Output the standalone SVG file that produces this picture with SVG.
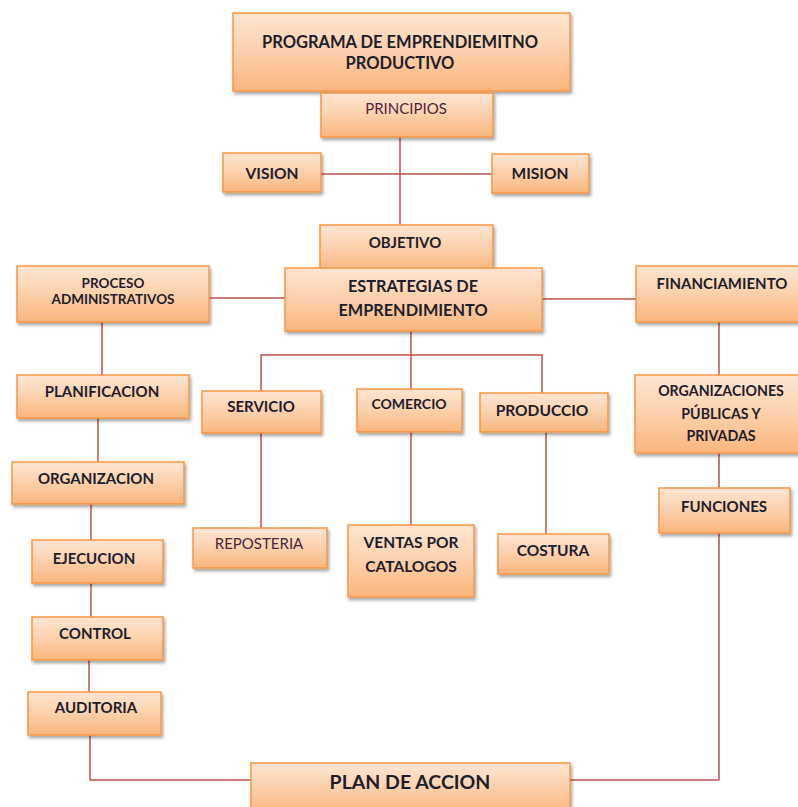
<svg xmlns="http://www.w3.org/2000/svg" width="798" height="807" viewBox="0 0 798 807">
<defs>
<linearGradient id="g" x1="0" y1="0" x2="0" y2="1">
<stop offset="0" stop-color="#fee6d3"/>
<stop offset="0.5" stop-color="#fcd0ab"/>
<stop offset="1" stop-color="#fab57c"/>
</linearGradient>
<filter id="sh" x="-10%" y="-10%" width="125%" height="140%">
<feDropShadow dx="1.5" dy="2.5" stdDeviation="1.5" flood-color="#000" flood-opacity="0.35"/>
</filter>
</defs>
<style>
.b{fill:url(#g);stroke:#f79646;stroke-width:1.5;filter:url(#sh)}
.t{font-family:Lato,"Open Sans","Liberation Sans",sans-serif;font-weight:bold;fill:#1d1d2c;text-anchor:middle}
.r{font-family:Lato,"Open Sans","Liberation Sans",sans-serif;font-weight:normal;fill:#4e2440;text-anchor:middle}
.c{fill:none;stroke:#c0504d;stroke-width:1.5}
</style>
<rect width="798" height="807" fill="#fff"/>
<g id="connectors">
<path class="c" d="M400 137V225"/>
<path class="c" d="M321 174H492"/>
<path class="c" d="M209 298H285"/>
<path class="c" d="M542 299H636"/>
<path class="c" d="M411 331V389"/>
<path class="c" d="M261 391V355H542V393"/>
<path class="c" d="M261 433V528"/>
<path class="c" d="M411 432V525"/>
<path class="c" d="M546 432V534"/>
<path class="c" d="M102 322V375"/>
<path class="c" d="M98 418V462"/>
<path class="c" d="M91 504V540"/>
<path class="c" d="M91 583V617"/>
<path class="c" d="M89 660V692"/>
<path class="c" d="M90 735V780H251"/>
<path class="c" d="M719 322V375"/>
<path class="c" d="M719 453V488"/>
<path class="c" d="M719 533V780H570"/>
</g>
<g id="programa"><rect class="b" x="233" y="13" width="337" height="78"/><text class="t" font-size="16.5"><tspan x="400" y="48">PROGRAMA DE EMPRENDIEMITNO</tspan><tspan x="400" y="69">PRODUCTIVO</tspan></text></g>
<g id="principios"><rect class="b" x="321" y="93" width="172" height="44"/><text class="r" font-size="15" x="406" y="114">PRINCIPIOS</text></g>
<g id="vision"><rect class="b" x="223" y="153" width="98" height="39"/><text class="t" font-size="15.5" x="272" y="179">VISION</text></g>
<g id="mision"><rect class="b" x="492" y="154" width="97" height="39"/><text class="t" font-size="15.5" x="540" y="179">MISION</text></g>
<g id="objetivo"><rect class="b" x="320" y="225" width="173" height="46"/><text class="t" font-size="15" x="405" y="248">OBJETIVO</text></g>
<g id="estrategias"><rect class="b" x="285" y="268" width="257" height="63"/><text class="t" font-size="16.3"><tspan x="413" y="292">ESTRATEGIAS DE</tspan><tspan x="413" y="316">EMPRENDIMIENTO</tspan></text></g>
<g id="proceso"><rect class="b" x="17" y="266" width="192" height="56"/><text class="t" font-size="13.5"><tspan x="113" y="288">PROCESO</tspan><tspan x="113" y="304">ADMINISTRATIVOS</tspan></text></g>
<g id="financiamiento"><rect class="b" x="636" y="266" width="170" height="56"/><text class="t" font-size="15" x="722" y="289">FINANCIAMIENTO</text></g>
<g id="organizaciones"><rect class="b" x="635" y="375" width="171" height="78"/><text class="t" font-size="14.2"><tspan x="721" y="396">ORGANIZACIONES</tspan><tspan x="721" y="419">PÚBLICAS Y</tspan><tspan x="721" y="441">PRIVADAS</tspan></text></g>
<g id="funciones"><rect class="b" x="659" y="488" width="131" height="45"/><text class="t" font-size="15" x="724" y="512">FUNCIONES</text></g>
<g id="servicio"><rect class="b" x="202" y="391" width="119" height="42"/><text class="t" font-size="15" x="261" y="412">SERVICIO</text></g>
<g id="comercio"><rect class="b" x="357" y="389" width="105" height="43"/><text class="t" font-size="14" x="409" y="409">COMERCIO</text></g>
<g id="produccio"><rect class="b" x="480" y="393" width="128" height="39"/><text class="t" font-size="15.5" x="542" y="416">PRODUCCIO</text></g>
<g id="reposteria"><rect class="b" x="193" y="528" width="134" height="40"/><text class="r" font-size="15" x="259" y="549">REPOSTERIA</text></g>
<g id="ventas"><rect class="b" x="348" y="525" width="126" height="72"/><text class="t" font-size="15.5"><tspan x="411" y="548">VENTAS POR</tspan><tspan x="411" y="572">CATALOGOS</tspan></text></g>
<g id="costura"><rect class="b" x="498" y="534" width="111" height="40"/><text class="t" font-size="15.5" x="553" y="556">COSTURA</text></g>
<g id="planificacion"><rect class="b" x="17" y="375" width="172" height="43"/><text class="t" font-size="15" x="102" y="397">PLANIFICACION</text></g>
<g id="organizacion"><rect class="b" x="12" y="462" width="172" height="42"/><text class="t" font-size="15" x="96" y="484">ORGANIZACION</text></g>
<g id="ejecucion"><rect class="b" x="32" y="540" width="131" height="43"/><text class="t" font-size="15" x="94" y="564">EJECUCION</text></g>
<g id="control"><rect class="b" x="32" y="617" width="131" height="43"/><text class="t" font-size="15" x="95" y="639">CONTROL</text></g>
<g id="auditoria"><rect class="b" x="28" y="692" width="133" height="43"/><text class="t" font-size="15" x="96" y="713">AUDITORIA</text></g>
<g id="plan"><rect class="b" x="251" y="763" width="319" height="50"/><text class="t" font-size="19.5" x="410" y="789">PLAN DE ACCION</text></g>
</svg>
